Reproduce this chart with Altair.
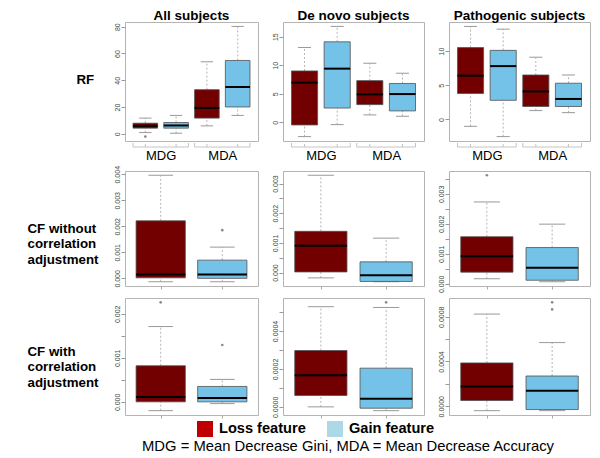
import altair as alt
import pandas as pd

FONT = "Liberation Sans"

COLUMN_TITLES = ["All subjects", "De novo subjects", "Pathogenic subjects"]
ROW_LABELS = [["RF"], ["CF without", "correlation", "adjustment"], ["CF with", "correlation", "adjustment"]]
METHODS = ["MDG", "MDA"]
FEATURES = ["Loss feature", "Gain feature"]
FOOTNOTE = "MDG = Mean Decrease Gini, MDA = Mean Decrease Accuracy"

# RF row: boxes MDG-Loss, MDG-Gain, MDA-Loss, MDA-Gain; one list per column
RF_LOW = [[1.0, 0.5, 6.0, 13.8], [-2.5, -0.4, 1.3, 1.06], [-1.0, -2.5, 1.3, 1.0]]
RF_Q1 = [[4.3, 4.3, 11.8, 20.1], [-0.46, 2.5, 3.1, 2.0], [3.8, 2.8, 1.9, 1.9]]
RF_MED = [[6.0, 6.3, 19.4, 35.0], [6.95, 9.4, 4.9, 4.95], [6.4, 7.8, 4.1, 3.0]]
RF_Q3 = [[8.0, 8.5, 33.0, 54.8], [9.0, 14.1, 7.3, 6.8], [10.5, 10.1, 6.5, 5.3]]
RF_HIGH = [[11.8, 13.8, 53.8, 80.2], [13.1, 16.8, 10.35, 8.6], [13.6, 13.2, 9.1, 6.5]]
RF_OUTLIERS = [[(1, -2.0)], [], []]
RF_TICKS = [[0, 20, 40, 60, 80], [0, 5, 10, 15], [0, 5, 10]]
RF_TICK_LABELS = [["0", "20", "40", "60", "80"], ["0", "5", "10", "15"], ["0", "5", "10"]]

# CF without correlation adjustment: boxes Loss, Gain
CF1_LOW = [[-0.00013, -0.00013], [-0.00018, -0.00031], [0.00017, 0.00007]]
CF1_Q1 = [[0.00002, 0.0], [0.00002, -0.0003], [0.00039, 0.00012]]
CF1_MED = [[0.00015, 0.00015], [0.0009, -0.00009], [0.00092, 0.00054]]
CF1_Q3 = [[0.00221, 0.0007], [0.00139, 0.00036], [0.00157, 0.00121]]
CF1_HIGH = [[0.00396, 0.0012], [0.00328, 0.00116], [0.00273, 0.00199]]
CF1_OUTLIERS = [[(2, 0.00185)], [], [(1, 0.00362)]]
CF1_TICKS = [[0.0, 0.001, 0.002, 0.003, 0.004],
             [0.0, 0.0005, 0.001, 0.0015, 0.002, 0.0025, 0.003],
             [0.0, 0.0005, 0.001, 0.0015, 0.002, 0.0025, 0.003, 0.0035]]
CF1_TICK_LABELS = [["0.000", "0.001", "0.002", "0.003", "0.004"],
                   ["0.000", "", "0.001", "", "0.002", "", "0.003"],
                   ["0.000", "", "0.001", "", "0.002", "", "0.003", ""]]

# CF with correlation adjustment: boxes Loss, Gain
CF2_LOW = [[-0.0002, -0.00004], [0.0, -0.00002], [-0.00004, -0.00004]]
CF2_Q1 = [[0.0, 0.0], [0.00006, -0.000007], [0.000051, -0.00003]]
CF2_MED = [[0.00011, 0.00009], [0.000167, 0.000043], [0.000177, 0.000138]]
CF2_Q3 = [[0.00082, 0.00035], [0.000297, 0.000204], [0.000387, 0.00027]]
CF2_HIGH = [[0.00171, 0.00051], [0.000528, 0.000524], [0.000824, 0.000569]]
CF2_OUTLIERS = [[(1, 0.00226), (2, 0.00129)], [(2, 0.000551)], [(2, 0.000929), (2, 0.000866)]]
CF2_TICKS = [[0.0, 0.0005, 0.001, 0.0015, 0.002],
             [0.0, 0.0001, 0.0002, 0.0003, 0.0004, 0.0005],
             [0.0, 0.0002, 0.0004, 0.0006, 0.0008]]
CF2_TICK_LABELS = [["0.000", "", "0.001", "", "0.002"],
                   ["0.0000", "", "0.0002", "", "0.0004", ""],
                   ["0.0000", "", "0.0004", "", "0.0008"]]

ROWS = [
    dict(low=RF_LOW, q1=RF_Q1, med=RF_MED, q3=RF_Q3, high=RF_HIGH, out=RF_OUTLIERS,
         ticks=RF_TICKS, labels=RF_TICK_LABELS),
    dict(low=CF1_LOW, q1=CF1_Q1, med=CF1_MED, q3=CF1_Q3, high=CF1_HIGH, out=CF1_OUTLIERS,
         ticks=CF1_TICKS, labels=CF1_TICK_LABELS),
    dict(low=CF2_LOW, q1=CF2_Q1, med=CF2_MED, q3=CF2_Q3, high=CF2_HIGH, out=CF2_OUTLIERS,
         ticks=CF2_TICKS, labels=CF2_TICK_LABELS),
]

# layout / style
PANEL_WIDTHS = [133, 141, 141]
PANEL_HEIGHTS = [119, 115, 117]
ROW_LABEL_X = [-49, -98, -98]
ROW_LABEL_Y = [57, 57, 53]
LOSS_BOX = "#720000"
GAIN_BOX = "#74c2e7"
LOSS_KEY = "#c00000"
GAIN_KEY = "#add8e6"
WHISKER = "#b4b4b4"
STAPLE = "#999999"
BOX_EDGE = "#505050"
BRACKET = "#c4c4c4"


def label_expr(ticks, labels):
    expr = "''"
    for v, l in reversed(list(zip(ticks, labels))):
        expr = f"datum.value === {v!r} ? '{l}' : {expr}"
    return expr


def make_panel(r, c):
    spec = ROWS[r]
    low, q1, med, q3, high = (spec[k][c] for k in ("low", "q1", "med", "q3", "high"))
    outs = spec["out"][c]
    n = len(low)
    pos = list(range(1, n + 1))
    df = pd.DataFrame({
        "pos": pos,
        "feature": [FEATURES[i % 2] for i in range(n)],
        "method": [METHODS[i // 2] if n == 4 else "" for i in range(n)],
        "lo": low, "q1": q1, "med": med, "q3": q3, "hi": high,
    })
    vals = list(low) + list(high) + [v for _, v in outs]
    lo_v, hi_v = min(vals), max(vals)
    pad = 0.04 * (hi_v - lo_v)
    yscale = alt.Scale(domain=[lo_v - pad, hi_v + pad], nice=False, zero=False)
    xscale = alt.Scale(domain=[0.5 - 0.04 * n, n + 0.5 + 0.04 * n], nice=False, zero=False)
    w, h = PANEL_WIDTHS[c], PANEL_HEIGHTS[r]

    ykw = dict(values=spec["ticks"][c], labelExpr=label_expr(spec["ticks"][c], spec["labels"][c]),
               labelAngle=270, labelAlign="center", labelBaseline="bottom", labelFontSize=7,
               labelColor="#444444", labelPadding=1, tickSize=4, tickColor="#999999",
               domain=False, grid=False, labelOverlap=False, labelFlush=False)
    if c == 0:
        ykw.update(title=ROW_LABELS[r], titleAngle=0, titleAlign="left", titleBaseline="middle",
                   titleX=ROW_LABEL_X[r], titleY=ROW_LABEL_Y[r], titleFontSize=13.3,
                   titleFontWeight="bold", titleColor="black", titleFont=FONT, titleLineHeight=15.5)
    else:
        ykw.update(title=None)
    yaxis = alt.Axis(**ykw)
    if r == 0:
        xaxis = alt.Axis(values=[1.5, 3.5],
                         labelExpr=f"datum.value < 2.5 ? '{METHODS[0]}' : '{METHODS[1]}'",
                         ticks=False, domain=False, grid=False, labelPadding=8, labelFontSize=13,
                         labelColor="black", labelFont=FONT, title=None, labelFlush=False)
    else:
        xaxis = alt.Axis(values=pos, labels=False, tickSize=3, tickColor="#aaaaaa",
                         domain=False, grid=False, title=None)

    def X(f):
        return alt.X(f"{f}:Q", scale=xscale, axis=xaxis)

    def Y(f):
        return alt.Y(f"{f}:Q", scale=yscale, axis=yaxis)

    base = alt.Chart(df).transform_calculate(
        box_l="datum.pos - 0.4", box_r="datum.pos + 0.4",
        cap_l="datum.pos - 0.2", cap_r="datum.pos + 0.2")
    layers = [
        base.mark_rule(color=WHISKER, strokeDash=[2, 2], strokeWidth=1).encode(x=X("pos"), y=Y("q3"), y2="hi"),
        base.mark_rule(color=WHISKER, strokeDash=[2, 2], strokeWidth=1).encode(x=X("pos"), y=Y("lo"), y2="q1"),
        base.mark_rule(color=STAPLE, strokeWidth=1).encode(x=X("cap_l"), x2="cap_r", y=Y("hi")),
        base.mark_rule(color=STAPLE, strokeWidth=1).encode(x=X("cap_l"), x2="cap_r", y=Y("lo")),
        base.mark_rect(stroke=BOX_EDGE, strokeWidth=0.8).encode(
            x=X("box_l"), x2="box_r", y=Y("q1"), y2="q3",
            color=alt.Color("feature:N", scale=alt.Scale(domain=FEATURES, range=[LOSS_BOX, GAIN_BOX]),
                            legend=None)),
        base.mark_rule(color="black", strokeWidth=2).encode(x=X("box_l"), x2="box_r", y=Y("med")),
    ]
    if outs:
        odf = pd.DataFrame({"pos": [p for p, _ in outs], "value": [v for _, v in outs]})
        layers.append(alt.Chart(odf).mark_point(shape="circle", size=7, filled=True, color="#8a8a8a",
                                                opacity=1).encode(x=X("pos"), y=Y("value")))
    if r == 0:
        grp = base.transform_aggregate(g0="min(box_l)", g1="max(box_r)", groupby=["method"])
        layers.append(grp.mark_rule(color=BRACKET).encode(x=X("g0"), x2="g1", y=alt.value(h + 6)))
        layers.append(grp.mark_rule(color=BRACKET).encode(x=X("g0"), y=alt.value(h + 2), y2=alt.value(h + 6)))
        layers.append(grp.mark_rule(color=BRACKET).encode(x=X("g1"), y=alt.value(h + 2), y2=alt.value(h + 6)))
        layers.append(base.mark_rule(color=BRACKET).encode(x=X("pos"), y=alt.value(h + 3), y2=alt.value(h + 6)))
    chart = alt.layer(*layers).properties(width=w, height=h)
    if r == 0:
        chart = chart.properties(title=alt.TitleParams(
            COLUMN_TITLES[c], fontSize=13.5, fontWeight="bold", font=FONT, color="black",
            anchor="middle", frame="group", offset=0))
    return chart


row1 = [make_panel(0, c) for c in range(3)]
rows23 = [make_panel(r, c) for r in (1, 2) for c in range(3)]

grid1 = alt.concat(*row1, columns=3, align="each", spacing=11)
grid23 = alt.concat(*rows23, columns=3, align="each", spacing={"row": 3, "column": 11})

footer = alt.Chart(pd.DataFrame({"feature": FEATURES})).mark_square(opacity=0).encode(
    color=alt.Color("feature:N", scale=alt.Scale(domain=FEATURES, range=[LOSS_KEY, GAIN_KEY]),
                    legend=alt.Legend(title=None, orient="none", legendX=72, legendY=0,
                                      direction="horizontal", symbolType="square", symbolSize=256,
                                      symbolOpacity=1, symbolStrokeWidth=0, labelFontSize=14.6,
                                      labelFontWeight="bold", labelColor="black", labelFont=FONT,
                                      labelOffset=6, columnPadding=21, padding=0))
).properties(
    width=446, height=18, view=alt.ViewBackground(strokeOpacity=0),
    title=alt.TitleParams(FOOTNOTE, orient="bottom", anchor="middle", frame="group", fontSize=14.8,
                          fontWeight="normal", color="black", font=FONT, offset=0))

top = alt.vconcat(grid1, grid23, spacing=1)
chart = alt.vconcat(top, footer, spacing=2).resolve_scale(color="independent").properties(
    padding={"left": 18, "top": 0, "right": 0, "bottom": 0}
).configure(font=FONT).configure_view(stroke="#b4b4b4", strokeWidth=1)

chart.save("out.html", embed_options={"renderer": "svg", "actions": False})
